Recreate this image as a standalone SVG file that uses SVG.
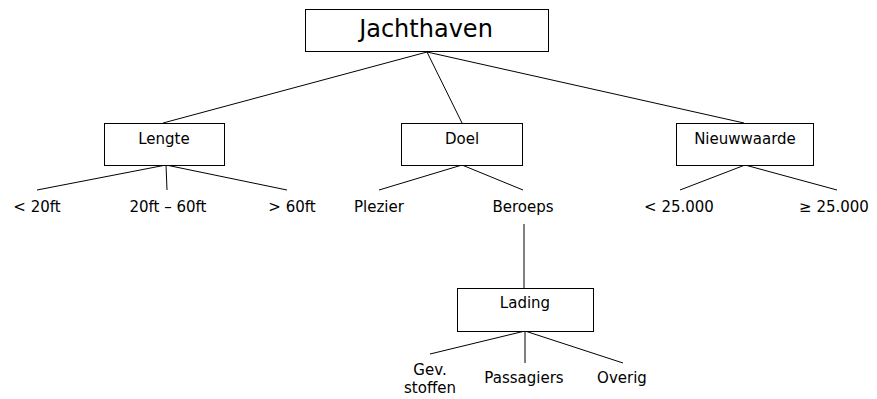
<svg xmlns="http://www.w3.org/2000/svg" width="877" height="399" viewBox="0 0 877 399">
<style>
.box{fill:#fff;stroke:#000;stroke-width:1}
.ln{stroke:#000;stroke-width:1;fill:none}
text{font-family:"DejaVu Sans",Verdana,sans-serif;font-size:15px;fill:#000;text-anchor:middle}
.big{font-size:24px}
</style>
<rect width="877" height="399" fill="#fff"/>
<g id="connectors">
<line class="ln" x1="427" y1="52" x2="163" y2="123"/>
<line class="ln" x1="427" y1="52" x2="462" y2="123"/>
<line class="ln" x1="427" y1="52" x2="744" y2="123"/>
<line class="ln" x1="166" y1="165" x2="37" y2="190"/>
<line class="ln" x1="166" y1="165" x2="167" y2="190"/>
<line class="ln" x1="166" y1="165" x2="287" y2="190"/>
<line class="ln" x1="462" y1="165" x2="379" y2="190"/>
<line class="ln" x1="462" y1="165" x2="523" y2="190"/>
<line class="ln" x1="745" y1="165" x2="680" y2="190"/>
<line class="ln" x1="745" y1="165" x2="837" y2="190"/>
<line class="ln" x1="524" y1="224" x2="524" y2="288"/>
<line class="ln" x1="525" y1="331" x2="430" y2="354"/>
<line class="ln" x1="525" y1="331" x2="525" y2="363"/>
<line class="ln" x1="525" y1="331" x2="623" y2="363"/>
</g>
<g id="jachthaven"><rect class="box" x="305.5" y="9.5" width="243" height="42"/><text class="big" x="426" y="37">Jachthaven</text></g>
<g id="lengte"><rect class="box" x="104.5" y="123.5" width="120" height="42"/><text x="164" y="144">Lengte</text></g>
<g id="doel"><rect class="box" x="401.5" y="123.5" width="121" height="42"/><text x="462" y="144">Doel</text></g>
<g id="nieuwwaarde"><rect class="box" x="676.5" y="123.5" width="137" height="42"/><text x="745" y="144">Nieuwwaarde</text></g>
<g id="lading"><rect class="box" x="457.5" y="288.5" width="136" height="43"/><text x="525" y="308">Lading</text></g>
<g id="lt20"><text x="37" y="212">&lt; 20ft</text></g>
<g id="20-60"><text x="168" y="212">20ft – 60ft</text></g>
<g id="gt60"><text x="292" y="212">&gt; 60ft</text></g>
<g id="plezier"><text x="379" y="212">Plezier</text></g>
<g id="beroeps"><text x="523" y="212">Beroeps</text></g>
<g id="lt25"><text x="679" y="212">&lt; 25.000</text></g>
<g id="ge25"><text x="834" y="212">≥ 25.000</text></g>
<g id="gev"><text x="430" y="375">Gev.</text><text x="430" y="393">stoffen</text></g>
<g id="passagiers"><text x="524" y="383">Passagiers</text></g>
<g id="overig"><text x="622" y="383">Overig</text></g>
</svg>
